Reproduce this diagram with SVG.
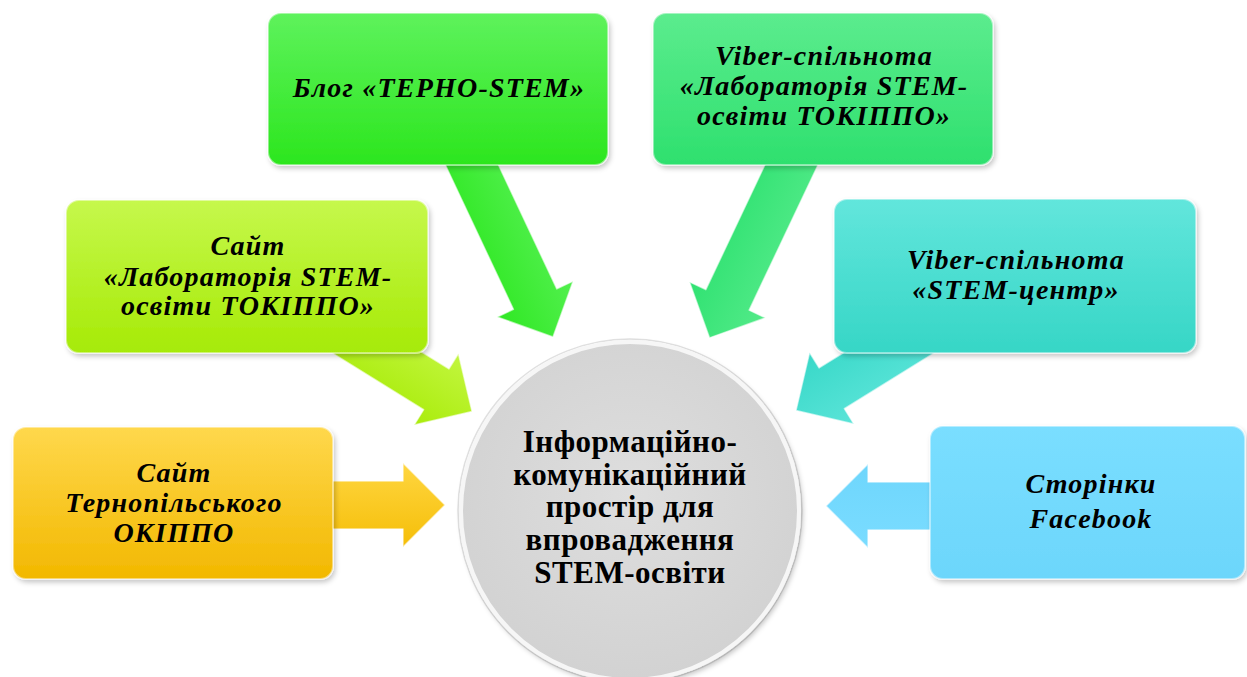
<svg xmlns="http://www.w3.org/2000/svg" width="1247" height="677" viewBox="0 0 1247 677">
<defs>
<filter id="sh" x="-10%" y="-10%" width="125%" height="130%">
<feDropShadow dx="2" dy="3" stdDeviation="2.5" flood-color="#000" flood-opacity="0.22"/>
</filter>
<linearGradient id="gOr" x1="0" y1="0" x2="0" y2="1"><stop offset="0" stop-color="#FFD84C"/><stop offset="1" stop-color="#F2B800"/></linearGradient>
<linearGradient id="gLi" x1="0" y1="0" x2="0" y2="1"><stop offset="0" stop-color="#C6F84C"/><stop offset="1" stop-color="#A6EA06"/></linearGradient>
<linearGradient id="gGr" x1="0" y1="0" x2="0" y2="1"><stop offset="0" stop-color="#5EF25C"/><stop offset="1" stop-color="#2CE61E"/></linearGradient>
<linearGradient id="gVi" x1="0" y1="0" x2="0" y2="1"><stop offset="0" stop-color="#5CEC8E"/><stop offset="1" stop-color="#2EE06E"/></linearGradient>
<linearGradient id="gTe" x1="0" y1="0" x2="0" y2="1"><stop offset="0" stop-color="#62E6DC"/><stop offset="1" stop-color="#36D6C6"/></linearGradient>
<linearGradient id="gFb" x1="0" y1="0" x2="0" y2="1"><stop offset="0" stop-color="#7ADEFF"/><stop offset="1" stop-color="#6CD6FB"/></linearGradient>
<linearGradient id="aOr" x1="0" y1="0" x2="0" y2="1"><stop offset="0" stop-color="#FFD640"/><stop offset="1" stop-color="#F5BE08"/></linearGradient>
<linearGradient id="aLi" x1="0" y1="0" x2="0" y2="1"><stop offset="0" stop-color="#C2F63E"/><stop offset="1" stop-color="#AAEC0C"/></linearGradient>
<linearGradient id="aGr" x1="0" y1="0" x2="0" y2="1"><stop offset="0" stop-color="#52F04E"/><stop offset="1" stop-color="#30E824"/></linearGradient>
<linearGradient id="aVi" x1="0" y1="0" x2="0" y2="1"><stop offset="0" stop-color="#52EA88"/><stop offset="1" stop-color="#30E272"/></linearGradient>
<linearGradient id="aTe" x1="0" y1="0" x2="0" y2="1"><stop offset="0" stop-color="#5AE4D8"/><stop offset="1" stop-color="#38D8C8"/></linearGradient>
<linearGradient id="aFb" x1="0" y1="0" x2="0" y2="1"><stop offset="0" stop-color="#7ADCFF"/><stop offset="1" stop-color="#6ED6FC"/></linearGradient>
<radialGradient id="gCi" cx="0.5" cy="0.45" r="0.55"><stop offset="0" stop-color="#DEDEDE"/><stop offset="1" stop-color="#D2D2D2"/></radialGradient>
</defs>
<style>
.box{stroke:#ffffff;stroke-opacity:0.45;stroke-width:2;filter:url(#sh)}
.arr{stroke:#ffffff;stroke-opacity:0.6;stroke-width:1.5;stroke-linejoin:round}
.t{font-family:"Liberation Serif","Times New Roman",serif;font-weight:bold;font-style:italic;font-size:28px;letter-spacing:1.2px;fill:#000;text-anchor:middle}
.c{font-family:"Liberation Serif","Times New Roman",serif;font-weight:bold;font-size:31px;letter-spacing:0.5px;fill:#000;text-anchor:middle}
</style>
<rect width="1247" height="677" fill="#ffffff"/>
<g id="connectors">
<polygon class="arr" fill="url(#aOr)" transform="translate(300,505)" points="0,-24 103,-24 103,-42 145,0 103,42 103,24 0,24"/>
<polygon class="arr" fill="url(#aFb)" transform="translate(960,506) rotate(180)" points="0,-24 92,-24 92,-42 134,0 92,42 92,24 0,24"/>
<polygon class="arr" fill="url(#aGr)" transform="translate(455,129) rotate(64.78)" points="0,-24 188,-24 188,-42 230,0 188,42 188,24 0,24"/>
<polygon class="arr" fill="url(#aVi)" transform="translate(808,130) rotate(115.36)" points="0,-24 188,-24 188,-42 230,0 188,42 188,24 0,24"/>
<polygon class="arr" fill="url(#aLi)" transform="translate(302,306) rotate(31.8)" points="0,-24 158,-24 158,-42 200,0 158,42 158,24 0,24"/>
<polygon class="arr" fill="url(#aTe)" transform="translate(966,305) rotate(148.2)" points="0,-24 158,-24 158,-42 200,0 158,42 158,24 0,24"/>
</g>
<g id="center">
<circle cx="630" cy="511" r="172" fill="none" stroke="#E2E2E2" stroke-width="1.5"/>
<circle cx="630" cy="511" r="169" fill="url(#gCi)" stroke="#F6F6F6" stroke-width="4" filter="url(#sh)"/>
<text class="c" x="630" y="452">Інформаційно-</text>
<text class="c" x="630" y="485">комунікаційний</text>
<text class="c" x="630" y="517">простір для</text>
<text class="c" x="630" y="550">впровадження</text>
<text class="c" x="630" y="583">STEM-освіти</text>
</g>
<g id="node-orange">
<rect class="box" x="13" y="427" width="320" height="152" rx="13" fill="url(#gOr)"/>
<text class="t" x="174" y="482">Сайт</text>
<text class="t" x="174" y="512">Тернопільського</text>
<text class="t" x="174" y="542">ОКІППО</text>
</g>
<g id="node-lime">
<rect class="box" x="66" y="200" width="362" height="153" rx="13" fill="url(#gLi)"/>
<text class="t" x="248" y="255">Сайт</text>
<text class="t" x="248" y="286">«Лабораторія STEM-</text>
<text class="t" x="248" y="315">освіти ТОКІППО»</text>
</g>
<g id="node-blog">
<rect class="box" x="268" y="13" width="340" height="152" rx="13" fill="url(#gGr)"/>
<text class="t" x="439" y="97">Блог «ТЕРНО-STEM»</text>
</g>
<g id="node-viber1">
<rect class="box" x="653" y="13" width="340" height="152" rx="13" fill="url(#gVi)"/>
<text class="t" x="824" y="65">Viber-спільнота</text>
<text class="t" x="824" y="95">«Лабораторія STEM-</text>
<text class="t" x="824" y="125">освіти ТОКІППО»</text>
</g>
<g id="node-viber2">
<rect class="box" x="834" y="199" width="362" height="154" rx="13" fill="url(#gTe)"/>
<text class="t" x="1016" y="269">Viber-спільнота</text>
<text class="t" x="1016" y="299">«STEM-центр»</text>
</g>
<g id="node-facebook">
<rect class="box" x="930" y="426" width="315" height="153" rx="13" fill="url(#gFb)"/>
<text class="t" x="1091" y="493">Сторінки</text>
<text class="t" x="1091" y="528">Facebook</text>
</g>
</svg>
